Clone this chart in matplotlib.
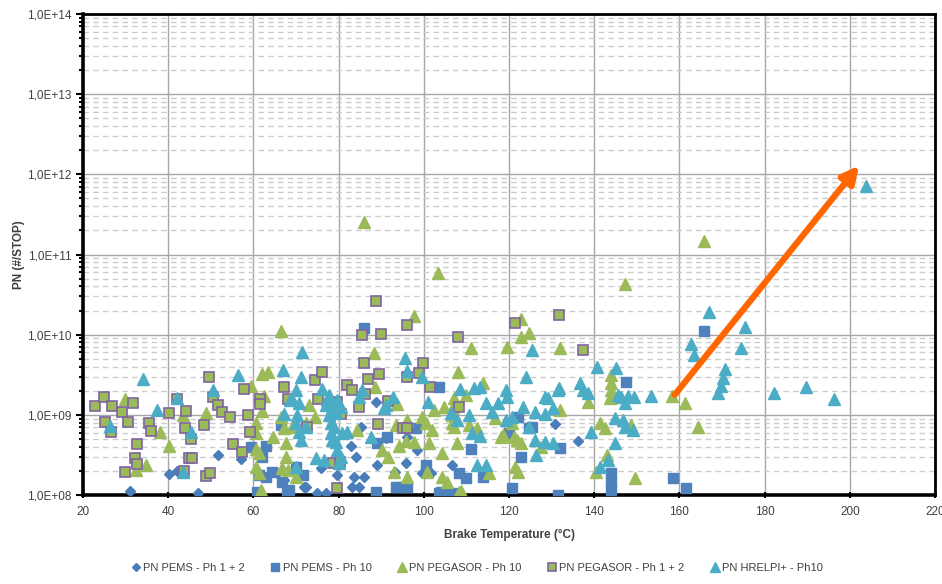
import numpy as np
import matplotlib
matplotlib.use("Agg")
import matplotlib.pyplot as plt
from matplotlib.ticker import FixedLocator, LogLocator, FuncFormatter, NullFormatter

plt.rcParams['font.family'] = ['Liberation Sans', 'DejaVu Sans']

# PN PEMS - Ph 1 + 2 (diamonds)
pems12_temp = [31.0, 40.1, 42.0, 46.9, 51.6, 57.2, 71.9, 75.0, 77.1, 75.9, 65.6, 67.3,
               88.8, 82.9, 84.1, 79.6, 83.6, 86.0, 83.2, 84.8, 72.4, 89.0, 91.1, 85.3,
               96.0, 98.4, 95.8, 99.5, 93.2, 106.6, 101.6, 130.9, 136.3]
pems12_pn = [1.12e8, 1.83e8, 2.0e8, 1.06e8, 3.16e8, 2.82e8, 1.26e8, 1.06e8, 1.06e8, 2.17e8, 1.88e8, 1.54e8,
             1.45e9, 4.1e8, 2.99e8, 1.78e8, 1.68e8, 1.68e8, 1.26e8, 1.26e8, 1.26e8, 2.37e8, 5.16e8, 7.08e8,
             5.31e8, 3.65e8, 2.51e8, 1.88e8, 1.94e8, 2.37e8, 1.88e8, 7.7e8, 4.73e8]

# PN PEMS - Ph 10 (blue squares)
pems10_temp = [59.5, 60.9, 63.0, 62.1, 61.4, 64.4, 66.8, 68.0, 66.5, 71.7, 86.0, 63.0,
               68.4, 70.1, 88.8, 89.0, 91.3, 93.4, 94.9, 96.0, 98.1, 100.5, 103.5, 103.5,
               106.6, 104.0, 108.2, 109.8, 111.0, 114.0, 120.6, 122.2, 124.6, 122.7, 119.9,
               131.6, 132.0, 144.0, 144.0, 147.5, 125.3, 158.5, 161.5, 165.7, 144.0]
pems10_pn = [3.98e8, 1.09e8, 4.1e8, 2.99e8, 1.78e8, 1.94e8, 1.45e8, 1.09e8, 7.5e8, 1.78e8, 1.22e10, 1.68e8,
             1.15e8, 2.24e8, 1.09e8, 4.47e8, 5.31e8, 1.26e8, 1.26e8, 1.26e8, 6.88e8, 2.37e8, 2.24e9, 1.06e8,
             1.06e8, 1.09e8, 1.88e8, 1.63e8, 3.76e8, 1.68e8, 1.22e8, 9.44e8, 6.88e8, 2.99e8, 5.96e8,
             1.0e8, 3.87e8, 1.88e8, 1.15e8, 2.59e9, 7.08e8, 1.63e8, 1.22e8, 1.12e10, 1.45e8]

# PN PEGASOR - Ph 10 (green triangles)
peg10_temp = [29.8, 32.4, 34.7, 38.0, 40.1, 43.4, 48.8, 59.5, 60.5, 60.5, 60.7, 62.1,
              63.5, 62.6, 62.1, 66.5, 64.7, 61.2, 61.4, 61.9, 66.5, 67.3, 67.7, 67.7,
              66.8, 70.1, 73.1, 74.5, 69.1, 72.4, 68.2, 60.7, 88.3, 88.5, 84.3, 90.2,
              91.6, 93.0, 93.4, 97.7, 93.7, 94.2, 95.8, 97.7, 101.2, 100.7, 104.2, 105.4,
              108.7, 104.2, 106.6, 106.6, 106.8, 108.0, 100.5, 102.3, 111.0, 109.8, 107.7, 112.4,
              114.0, 116.8, 118.2, 119.6, 120.6, 121.8, 121.5, 122.2, 122.7, 122.7, 124.6, 132.0,
              132.0, 141.4, 143.0, 144.0, 144.0, 144.0, 143.7, 147.3, 140.5, 142.6, 149.6, 148.7,
              158.3, 161.3, 164.3, 138.6, 127.4, 165.7, 86.0, 103.3, 107.0, 104.7, 99.5, 107.5,
              110.5, 107.0, 101.9, 96.0, 118.7, 121.1, 122.7, 115.2, 108.2, 96.0]
peg10_pn = [1.58e9, 2.05e8, 2.37e8, 6.13e8, 4.1e8, 1.0e9, 1.06e9, 2.3e9, 7.94e8, 5.96e8, 3.76e8, 3.25e9,
            3.45e9, 1.73e9, 1.12e9, 1.12e10, 5.31e8, 3.35e8, 1.88e8, 1.15e8, 9.44e8, 6.88e8, 4.47e8, 2.99e8,
            2.17e8, 1.68e8, 1.33e9, 9.44e8, 7.08e8, 7.94e8, 2.05e8, 2.24e8, 5.96e9, 2.24e9, 6.49e8, 3.65e8,
            2.99e8, 1.94e8, 7.5e8, 1.73e10, 1.37e9, 4.1e8, 4.73e8, 4.6e8, 4.47e8, 1.94e8, 1.68e8, 1.45e8,
            1.12e8, 3.35e8, 7.94e8, 1.0e9, 1.26e9, 3.45e9, 7.94e8, 1.15e9, 6.88e9, 1.78e9, 4.47e8, 6.88e8,
            2.51e9, 9.17e8, 5.31e8, 7.08e9, 7.94e8, 4.87e8, 2.24e8, 1.94e8, 1.58e10, 9.44e9, 1.06e10, 6.88e9,
            1.15e9, 7.94e8, 3.16e8, 3.16e9, 2.51e9, 2.05e9, 1.63e9, 4.3e10, 1.94e8, 6.88e8, 1.63e8, 7.5e8,
            1.73e9, 1.41e9, 7.08e8, 1.45e9, 3.98e8, 1.46e11, 2.51e11, 5.96e10, 1.63e9, 1.26e9, 9.44e8, 9.17e8,
            7.5e8, 7.08e8, 6.49e8, 8.66e8, 5.62e8, 5.31e8, 4.47e8, 1.88e8, 1.09e8, 1.68e8]

# PN PEGASOR - Ph 1 + 2 (green squares, purple edge)
peg12_temp = [22.8, 24.9, 26.8, 29.1, 31.7, 25.1, 26.5, 30.5, 32.6, 32.2, 32.6, 29.8,
              35.4, 35.9, 40.1, 42.0, 44.1, 43.9, 45.3, 44.8, 45.7, 43.6, 48.8, 49.9,
              49.5, 50.6, 51.8, 52.7, 54.4, 48.5, 55.1, 57.4, 57.7, 58.8, 59.1, 61.6,
              61.6, 67.3, 68.2, 72.6, 74.5, 76.1, 75.2, 88.8, 85.5, 90.0, 86.0, 86.9,
              89.5, 82.0, 83.2, 86.2, 84.8, 80.6, 89.2, 91.6, 78.7, 80.4, 79.6, 96.0,
              99.8, 98.8, 96.0, 101.4, 108.2, 108.0, 121.5, 131.8, 137.4, 95.1, 96.0, 79.6]
peg12_pn = [1.29e9, 1.68e9, 1.29e9, 1.09e9, 1.41e9, 8.2e8, 6.13e8, 8.2e8, 4.35e8, 2.9e8, 2.44e8, 1.94e8,
            7.94e8, 6.31e8, 1.06e9, 1.58e9, 1.12e9, 6.88e8, 5.0e8, 2.9e8, 2.9e8, 2.0e8, 1.73e8, 1.88e8,
            2.99e9, 1.68e9, 1.33e9, 1.09e9, 9.44e8, 7.5e8, 4.35e8, 3.45e8, 2.11e9, 1.0e9, 6.13e8, 1.58e9,
            1.37e9, 2.24e9, 1.58e9, 7.08e8, 2.74e9, 3.45e9, 1.58e9, 2.66e10, 1.0e10, 1.03e10, 4.47e9, 2.82e9,
            3.25e9, 2.37e9, 2.05e9, 1.83e9, 1.26e9, 1.03e9, 7.7e8, 1.5e9, 2.51e8, 2.59e8, 1.22e8, 1.33e10,
            4.47e9, 3.35e9, 2.99e9, 2.24e9, 1.26e9, 9.44e9, 1.41e10, 1.78e10, 6.49e9, 6.88e8, 6.88e8, 1.45e9]

# PN HRELPI+ - Ph10 (cyan triangles)
hrelpi_temp = [34.0, 37.3, 26.3, 42.0, 45.3, 43.4, 56.3, 50.4, 71.5, 67.0, 71.2, 70.1,
               69.1, 70.8, 70.3, 70.1, 70.8, 71.2, 72.4, 70.1, 74.7, 76.6, 76.1, 77.3,
               68.7, 67.3, 77.8, 78.2, 79.6, 77.1, 78.5, 80.6, 77.8, 79.4, 78.2, 78.9,
               78.2, 78.5, 79.4, 80.8, 82.0, 79.6, 80.6, 80.1, 85.5, 84.8, 87.6, 90.6,
               91.1, 92.7, 95.6, 96.0, 99.5, 100.9, 108.4, 111.7, 113.3, 114.7, 117.5, 119.4,
               119.6, 123.9, 125.3, 123.4, 128.5, 129.2, 131.6, 136.7, 137.4, 138.6, 140.7, 145.1,
               145.6, 139.3, 124.6, 126.4, 128.5, 130.4, 111.2, 113.3, 110.5, 106.3, 107.7, 115.9,
               119.4, 120.6, 112.4, 114.5, 141.4, 144.9, 146.8, 144.9, 143.3, 131.8, 130.4, 126.2,
               128.5, 146.3, 148.0, 149.4, 147.3, 153.3, 147.3, 149.1, 126.2, 166.9, 175.3, 174.4,
               162.7, 163.4, 170.6, 170.2, 169.7, 169.0, 182.3, 189.6, 196.4, 203.9]
hrelpi_pn = [2.82e9, 1.15e9, 7.3e8, 1.63e9, 6.13e8, 1.94e8, 3.16e9, 2.05e9, 6.13e9, 3.65e9, 2.99e9, 2.05e9,
             1.58e9, 1.41e9, 1.0e9, 7.94e8, 6.13e8, 4.87e8, 7.08e8, 2.24e8, 2.9e8, 2.74e8, 2.11e9, 1.54e9,
             1.54e9, 1.03e9, 1.78e9, 1.54e9, 1.54e9, 1.33e9, 1.22e9, 1.26e9, 1.0e9, 1.06e9, 7.94e8, 7.08e8,
             5.96e8, 4.87e8, 4.6e8, 5.96e8, 6.13e8, 3.65e8, 2.99e8, 2.51e8, 2.05e9, 1.68e9, 5.31e8, 1.22e9,
             1.33e9, 1.68e9, 5.16e9, 3.55e9, 2.99e9, 1.45e9, 2.11e9, 2.17e9, 2.24e9, 1.41e9, 1.41e9, 2.05e9,
             1.68e9, 2.99e9, 6.49e9, 1.26e9, 1.68e9, 1.63e9, 2.05e9, 2.51e9, 2.05e9, 1.88e9, 3.98e9, 3.87e9,
             1.78e9, 6.13e8, 7.08e8, 3.16e8, 4.6e8, 4.47e8, 5.96e8, 5.46e8, 1.0e9, 1.06e9, 8.66e8, 1.09e9,
             8.66e8, 9.44e8, 2.37e8, 2.37e8, 2.24e8, 9.17e8, 8.66e8, 4.47e8, 2.74e8, 2.17e9, 1.22e9, 1.09e9,
             1.03e9, 1.68e9, 1.73e9, 1.68e9, 1.41e9, 1.73e9, 7.08e8, 6.49e8, 4.87e8, 1.94e10, 1.26e10, 6.88e9,
             7.7e9, 5.62e9, 3.76e9, 2.9e9, 2.3e9, 1.88e9, 1.88e9, 2.24e9, 1.58e9, 7.08e11]

# trend arrow (temperature, PN)
arrow_start = (158.9, 1.78e9)
arrow_end = (202.2, 1.29e12)

fig = plt.figure(figsize=(9.42, 5.84), dpi=100)
ax = fig.add_axes([0.0881, 0.1524, 0.9045, 0.8236])

ax.set_yscale('log')
ax.set_xlim(20, 220)
ax.set_ylim(1e8, 1e14)

# grid: solid majors, dashed log minors
ax.set_axisbelow(True)
ax.grid(which='major', axis='both', color='#a6a6a6', lw=1.0, ls='-')
ax.yaxis.set_minor_locator(LogLocator(base=10, subs=np.arange(2, 10), numticks=20))
ax.yaxis.set_minor_formatter(NullFormatter())
ax.grid(which='minor', axis='y', color='#cccccc', lw=1.0, ls=(0, (4, 3)))

ax.set_xticks(np.arange(20, 221, 20))
ax.yaxis.set_major_locator(FixedLocator([10.0 ** e for e in range(8, 15)]))
ax.yaxis.set_major_formatter(FuncFormatter(lambda v, p: "1,0E+%02d" % int(round(np.log10(v)))))

ax.tick_params(axis='y', which='major', direction='out', length=5, width=1.5, labelsize=8.5,
               colors='black', labelcolor='#404040', pad=3)
ax.tick_params(axis='y', which='minor', direction='out', length=3, width=1.5, colors='black')
ax.tick_params(axis='x', which='major', direction='inout', length=4, width=1.5, labelsize=8.5,
               colors='black', labelcolor='#404040', pad=6)

for side in ['left', 'bottom']:
    ax.spines[side].set_linewidth(2.6)
for side in ['top', 'right']:
    ax.spines[side].set_linewidth(2.0)

blue = '#4a7ebb'
green = '#9bbb59'
purple = '#8064a2'
cyan = '#4bacc6'

ax.plot(pems12_temp, pems12_pn, ls='none', marker='D', ms=5.6, color=blue, mec=blue,
        label='PN PEMS - Ph 1 + 2', zorder=3)
ax.plot(pems10_temp, pems10_pn, ls='none', marker='s', ms=7.4, color='#4f81bd', mec='#4f81bd',
        label='PN PEMS - Ph 10', zorder=3)
ax.plot(peg10_temp, peg10_pn, ls='none', marker='^', ms=8.2, color=green, mec=green,
        label='PN PEGASOR - Ph 10', zorder=3)
ax.plot(peg12_temp, peg12_pn, ls='none', marker='s', ms=7.2, color=green, mec=purple, mew=1.2,
        label='PN PEGASOR - Ph 1 + 2', zorder=3)
ax.plot(hrelpi_temp, hrelpi_pn, ls='none', marker='^', ms=8.2, color=cyan, mec=cyan,
        label='PN HRELPI+ - Ph10', zorder=3)

ax.annotate('', xy=arrow_end, xytext=arrow_start,
            arrowprops=dict(arrowstyle='-|>,head_length=1.0,head_width=0.5', color='#ff6600',
                            lw=4.5, shrinkA=0, shrinkB=0), zorder=5)

ax.set_xlabel('Brake Temperature (°C)', fontsize=8.5, fontweight='bold', color='#404040', labelpad=8)
ax.set_ylabel('PN (#/STOP)', fontsize=8.5, fontweight='bold', color='#404040', labelpad=2)

handles, labels = ax.get_legend_handles_labels()
fig.legend(handles, labels, loc='center', bbox_to_anchor=(0.507, 0.027), ncol=5, frameon=False,
           fontsize=8, handlelength=0.7, handletextpad=0.3, columnspacing=2.4, markerscale=0.8,
           labelcolor='#404040')

fig.savefig('out.png', dpi=100)
